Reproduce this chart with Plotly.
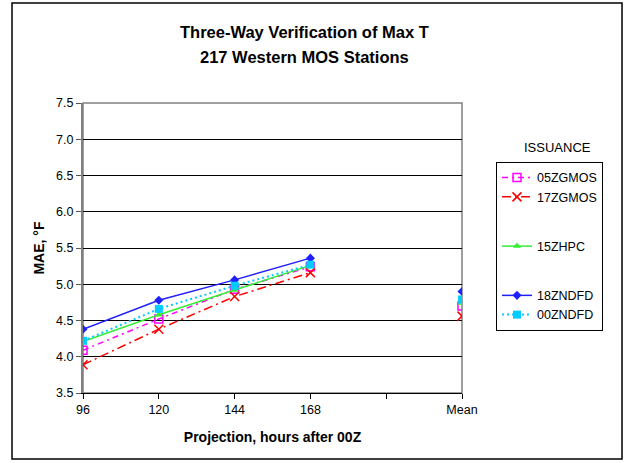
import plotly.graph_objects as go

# ---- data ----
tick_labels = ['96', '120', '144', '168', '', 'Mean']
x_pos = [0, 1, 2, 3, 4, 5]

s05ZGMOS = [4.09, 4.52, 4.93, 5.24, None, 4.70]
s17ZGMOS = [3.89, 4.38, 4.83, 5.16, None, 4.56]
s15ZHPC  = [4.21, 4.58, 4.92, 5.26, None, 4.74]
s18ZNDFD = [4.38, 4.78, 5.06, 5.36, None, 4.90]
s00ZNDFD = [4.22, 4.66, 4.98, 5.27, None, 4.79]

FONT = "Arial, 'Liberation Sans', sans-serif"

series = [
    dict(name='05ZGMOS', y=s05ZGMOS, color='#FF00FF', dash='6px,4px,2px,4px', width=1.5,
         symbol='square-open', msize=8, group='a'),
    dict(name='17ZGMOS', y=s17ZGMOS, color='#FF0000', dash='9px,4px,2px,4px', width=1.5,
         symbol='x-thin-open', msize=9, group='a'),
    dict(name='15ZHPC', y=s15ZHPC, color='#33EE33', dash='solid', width=1.5,
         symbol='triangle-up', msize=7, group='b'),
    dict(name='18ZNDFD', y=s18ZNDFD, color='#1F1FFF', dash='solid', width=1.5,
         symbol='diamond', msize=7, group='c'),
    dict(name='00ZNDFD', y=s00ZNDFD, color='#00CCFF', dash='2px,3px', width=2,
         symbol='square', msize=8, group='c'),
]

fig = go.Figure()
for s in series:
    mline = dict(width=1.5, color=s['color']) if 'open' in s['symbol'] else dict(width=0)
    fig.add_trace(go.Scatter(
        x=x_pos, y=s['y'], name=s['name'], mode='lines+markers',
        connectgaps=False, legendgroup=s['group'],
        line=dict(color=s['color'], dash=s['dash'], width=s['width']),
        marker=dict(symbol=s['symbol'], size=s['msize'], color=s['color'], line=mline),
    ))

fig.update_layout(
    width=626, height=463,
    margin=dict(l=83, r=164, t=103, b=70, pad=0),
    paper_bgcolor='white', plot_bgcolor='white',
    font=dict(family=FONT, size=12.5, color='black'),
    showlegend=True,
    legend=dict(
        x=1.0897, y=0.7966, xanchor='left', yanchor='top',
        bgcolor='white', bordercolor='black', borderwidth=1,
        font=dict(family=FONT, size=12.5, color='black'),
        traceorder='grouped', tracegroupgap=30,
        entrywidth=75, entrywidthmode='pixels',
    ),
    xaxis=dict(
        range=[0, 5], tickmode='array', tickvals=x_pos, ticktext=tick_labels,
        showgrid=False, zeroline=False,
        showline=True, linecolor='black', linewidth=1,
        ticks='outside', ticklen=5, tickcolor='black', tickwidth=1,
        tickfont=dict(family=FONT, size=12.5, color='black'),
        title=dict(text='<b>Projection, hours after 00Z</b>', standoff=16,
                   font=dict(family=FONT, size=14, color='black')),
    ),
    yaxis=dict(
        range=[3.5, 7.5], tickmode='linear', tick0=3.5, dtick=0.5, tickformat='.1f',
        showgrid=True, gridcolor='black', gridwidth=1, zeroline=False,
        showline=True, linecolor='#808080', linewidth=2,
        ticks='outside', ticklen=5, tickcolor='#555555', tickwidth=1,
        tickfont=dict(family=FONT, size=12.5, color='black'),
        title=dict(text='<b>MAE, °F</b>', standoff=8,
                   font=dict(family=FONT, size=14, color='black')),
    ),
    shapes=[
        dict(type='rect', xref='paper', yref='paper', x0=0, x1=1, y0=0, y1=1,
             line=dict(color='#808080', width=1.5), layer='below'),
        dict(type='rect', xref='paper', yref='paper', x0=-0.1873, x1=1.4222,
             y0=-0.2276, y1=1.3448, line=dict(color='black', width=1.5)),
    ],
    annotations=[
        dict(text='<b>Three-Way Verification of Max T</b>', xref='paper', yref='paper',
             x=0.5844, y=1.2448, showarrow=False, xanchor='center', yanchor='middle',
             font=dict(family=FONT, size=16.5, color='black')),
        dict(text='<b>217 Western MOS Stations</b>', xref='paper', yref='paper',
             x=0.5844, y=1.1586, showarrow=False, xanchor='center', yanchor='middle',
             font=dict(family=FONT, size=16.5, color='black')),
        dict(text='ISSUANCE', xref='paper', yref='paper', x=1.2507, y=0.848,
             showarrow=False, xanchor='center', yanchor='middle',
             font=dict(family=FONT, size=13, color='black')),
    ],
)

fig.write_html('out.html')
